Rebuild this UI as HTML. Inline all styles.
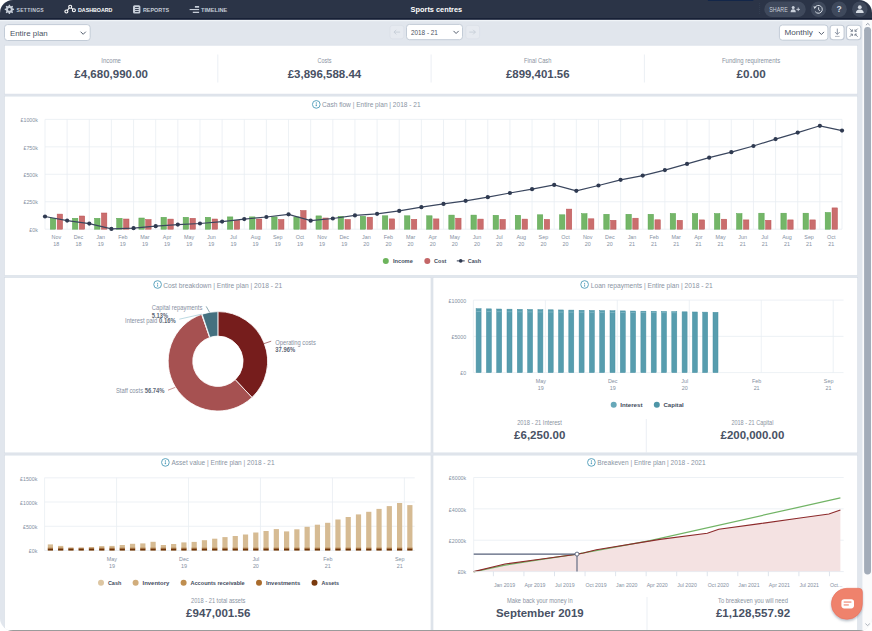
<!DOCTYPE html>
<html><head><meta charset="utf-8"><title>Sports centres - Dashboard</title>
<style>
html,body{margin:0;padding:0;background:#ffffff;width:872px;height:631px;overflow:hidden;}
.win{position:absolute;left:0;top:0;width:872px;height:631px;border-radius:13px;overflow:hidden;}
svg{display:block;font-family:"Liberation Sans", Arial, sans-serif;}
</style></head><body>
<div class="win">
<svg width="872" height="631" viewBox="0 0 872 631">
<rect x="0.00" y="0.00" width="872.00" height="631.00" fill="#e1e6ed"/>
<rect x="4.50" y="45.20" width="853.20" height="48.90" fill="#ffffff" stroke="#d5dce5" stroke-width="0.6"/>
<rect x="4.50" y="96.10" width="853.20" height="179.50" fill="#ffffff" stroke="#d5dce5" stroke-width="0.6"/>
<rect x="4.50" y="277.40" width="426.50" height="175.50" fill="#ffffff" stroke="#d5dce5" stroke-width="0.6"/>
<rect x="433.00" y="277.40" width="424.70" height="175.50" fill="#ffffff" stroke="#d5dce5" stroke-width="0.6"/>
<rect x="4.50" y="455.10" width="426.50" height="184.90" fill="#ffffff" stroke="#d5dce5" stroke-width="0.6"/>
<rect x="433.00" y="455.10" width="424.70" height="184.90" fill="#ffffff" stroke="#d5dce5" stroke-width="0.6"/>
<rect x="0.00" y="0.00" width="872.00" height="18.40" fill="#2b3447"/>
<rect x="0.00" y="18.00" width="872.00" height="1.90" fill="#172036"/>
<rect x="0.00" y="19.90" width="872.00" height="1.30" fill="#f0f4f8"/>
<polygon points="8.79,4.74 10.01,4.74 10.31,6.02 11.15,6.37 12.26,5.67 13.13,6.54 12.43,7.65 12.78,8.49 14.06,8.79 14.06,10.01 12.78,10.31 12.43,11.15 13.13,12.26 12.26,13.13 11.15,12.43 10.31,12.78 10.01,14.06 8.79,14.06 8.49,12.78 7.65,12.43 6.54,13.13 5.67,12.26 6.37,11.15 6.02,10.31 4.74,10.01 4.74,8.79 6.02,8.49 6.37,7.65 5.67,6.54 6.54,5.67 7.65,6.37 8.49,6.02" fill="#c6cdd8"/>
<circle cx="9.40" cy="9.40" r="1.35" fill="#2b3447"/>
<text x="16.60" y="12.00" font-size="5.9" font-weight="700" fill="#c4ccd7" textLength="27.40" lengthAdjust="spacingAndGlyphs" letter-spacing="0.3">SETTINGS</text>
<g stroke="#ffffff" stroke-width="1.1" fill="none"><line x1="66.4" y1="11.5" x2="70.2" y2="6.8"/><line x1="70.2" y1="6.8" x2="73.9" y2="10.2"/><circle cx="66.4" cy="11.5" r="1.5" fill="#2b3447"/><circle cx="70.2" cy="6.8" r="1.5" fill="#2b3447"/><circle cx="73.9" cy="10.2" r="1.5" fill="#2b3447"/></g>
<text x="78.00" y="12.00" font-size="5.9" font-weight="700" fill="#ffffff" textLength="34.40" lengthAdjust="spacingAndGlyphs">DASHBOARD</text>
<rect x="133.0" y="5.2" width="7.4" height="8.4" rx="1.5" fill="#c6cdd8"/><g stroke="#2b3447" stroke-width="0.9"><line x1="135.1" y1="7.5" x2="138.7" y2="7.5"/><line x1="135.1" y1="9.5" x2="138.7" y2="9.5"/><line x1="135.1" y1="11.5" x2="138.7" y2="11.5"/></g>
<text x="142.90" y="12.00" font-size="5.9" font-weight="700" fill="#c4ccd7" textLength="26.20" lengthAdjust="spacingAndGlyphs">REPORTS</text>
<g fill="#c6cdd8"><rect x="194.9" y="6.0" width="4.2" height="1.7"/><rect x="189.6" y="9.0" width="9.5" height="1.1"/><rect x="192.8" y="11.7" width="6.3" height="1.3"/></g>
<text x="201.00" y="12.00" font-size="5.9" font-weight="700" fill="#c4ccd7" textLength="26.30" lengthAdjust="spacingAndGlyphs">TIMELINE</text>
<text x="436.40" y="12.10" font-size="7.7" font-weight="700" fill="#ffffff" text-anchor="middle" textLength="51.60" lengthAdjust="spacingAndGlyphs">Sports centres</text>
<rect x="707.90" y="0.00" width="45.40" height="0.90" fill="#11254a"/>
<line x1="759.60" y1="3.00" x2="759.60" y2="15.00" stroke="#3a4457" stroke-width="0.6" stroke-dasharray="1 1"/>
<rect x="764.30" y="1.60" width="41.40" height="15.50" fill="#3f495c" rx="7.7"/>
<text x="769.30" y="11.60" font-size="6.4" fill="#c9d0da" textLength="18.40" lengthAdjust="spacingAndGlyphs">SHARE</text>
<g fill="#c9d0da"><circle cx="793.2" cy="7.6" r="1.5"/><path d="M790.6 12.2 q0-2.9 2.6-2.9 q2.6 0 2.6 2.9z"/><rect x="796.4" y="8.9" width="3.6" height="0.9"/><rect x="797.75" y="7.5" width="0.9" height="3.6"/></g>
<circle cx="818.50" cy="9.30" r="7.7" fill="#3f495c"/>
<circle cx="839.10" cy="9.30" r="7.7" fill="#3f495c"/>
<circle cx="859.80" cy="9.30" r="7.7" fill="#3f495c"/>
<g fill="none" stroke="#d5dbe3" stroke-width="1.0"><path d="M815.0 7.4 A3.9 3.9 0 1 1 815.2 11.6"/><path d="M818.6 7.3 V9.7 L820.2 10.8"/></g><path d="M813.4 6.3 L816.4 6.9 L814.4 9.0 Z" fill="#d5dbe3"/>
<text x="839.10" y="12.40" font-size="8.5" font-weight="700" fill="#d5dbe3" text-anchor="middle">?</text>
<g fill="#d5dbe3"><circle cx="859.8" cy="7.2" r="1.9"/><path d="M855.9 12.9 q0-3.5 3.9-3.5 q3.9 0 3.9 3.5z"/></g>
<rect x="4.50" y="24.60" width="85.70" height="15.90" fill="#ffffff" rx="3" stroke="#c3ccd7" stroke-width="1"/>
<text x="9.90" y="35.70" font-size="7.2" fill="#4a5262" textLength="37.80" lengthAdjust="spacingAndGlyphs">Entire plan</text>
<path d="M80.60 31.70 L83.20 34.30 L85.80 31.70" fill="none" stroke="#566070" stroke-width="1.0"/>
<rect x="390.00" y="25.40" width="13.80" height="13.40" fill="#e6eaf0" rx="2.5" stroke="#d8dee6" stroke-width="0.6"/>
<g fill="none" stroke="#c3cad4" stroke-width="0.8"><path d="M394 32.1 H400.1 M396.3 29.8 L394 32.1 L396.3 34.4"/></g>
<rect x="406.50" y="24.40" width="56.00" height="15.30" fill="#ffffff" rx="3" stroke="#c3ccd7" stroke-width="1"/>
<text x="411.00" y="34.90" font-size="7.2" fill="#4a5262" textLength="26.90" lengthAdjust="spacingAndGlyphs">2018 - 21</text>
<path d="M453.50 30.90 L456.10 33.50 L458.70 30.90" fill="none" stroke="#566070" stroke-width="1.0"/>
<rect x="465.80" y="25.40" width="13.80" height="13.40" fill="#e6eaf0" rx="2.5" stroke="#d8dee6" stroke-width="0.6"/>
<g fill="none" stroke="#c3cad4" stroke-width="0.8"><path d="M469.3 32.1 H475.4 M473.1 29.8 L475.4 32.1 L473.1 34.4"/></g>
<rect x="779.40" y="25.00" width="48.50" height="15.20" fill="#ffffff" rx="3" stroke="#c3ccd7" stroke-width="1"/>
<text x="784.40" y="35.40" font-size="7.2" fill="#4a5262" textLength="28.50" lengthAdjust="spacingAndGlyphs">Monthly</text>
<path d="M818.80 31.90 L821.40 34.50 L824.00 31.90" fill="none" stroke="#566070" stroke-width="1.0"/>
<rect x="830.10" y="25.20" width="14.00" height="14.60" fill="#ffffff" rx="3" stroke="#c3cbd6" stroke-width="1.1"/>
<g fill="none" stroke="#7c8696" stroke-width="0.9"><path d="M837.3 28.6 V34.4 M835 32.1 L837.3 34.4 L839.6 32.1"/><path d="M835 36.4 H839.6" stroke-width="0.6"/></g>
<rect x="846.50" y="25.20" width="14.40" height="14.60" fill="#ffffff" rx="3" stroke="#c3cbd6" stroke-width="1.1"/>
<g fill="none" stroke="#6f7988" stroke-width="0.85"><path d="M849.7 28.6 L852.4 31.3 M852.4 29.4 V31.3 H850.5"/><path d="M857.7 28.6 L855 31.3 M855 29.4 V31.3 H856.9"/><path d="M849.7 36.8 L852.4 34.1 M852.4 36 V34.1 H850.5"/><path d="M857.7 36.8 L855 34.1 M855 36 V34.1 H856.9"/></g>
<text x="111.15" y="62.90" font-size="6.5" fill="#8a93a1" text-anchor="middle" textLength="19.60" lengthAdjust="spacingAndGlyphs">Income</text>
<text x="111.15" y="77.50" font-size="11.4" font-weight="700" fill="#485164" text-anchor="middle" textLength="73.60" lengthAdjust="spacingAndGlyphs">£4,680,990.00</text>
<text x="324.45" y="62.90" font-size="6.5" fill="#8a93a1" text-anchor="middle" textLength="14.00" lengthAdjust="spacingAndGlyphs">Costs</text>
<text x="324.45" y="77.50" font-size="11.4" font-weight="700" fill="#485164" text-anchor="middle" textLength="73.60" lengthAdjust="spacingAndGlyphs">£3,896,588.44</text>
<line x1="217.80" y1="54.50" x2="217.80" y2="82.50" stroke="#e6ebf1" stroke-width="0.8"/>
<text x="537.75" y="62.90" font-size="6.5" fill="#8a93a1" text-anchor="middle" textLength="27.30" lengthAdjust="spacingAndGlyphs">Final Cash</text>
<text x="537.75" y="77.50" font-size="11.4" font-weight="700" fill="#485164" text-anchor="middle" textLength="63.70" lengthAdjust="spacingAndGlyphs">£899,401.56</text>
<line x1="431.10" y1="54.50" x2="431.10" y2="82.50" stroke="#e6ebf1" stroke-width="0.8"/>
<text x="751.05" y="62.90" font-size="6.5" fill="#8a93a1" text-anchor="middle" textLength="58.20" lengthAdjust="spacingAndGlyphs">Funding requirements</text>
<text x="751.05" y="77.50" font-size="11.4" font-weight="700" fill="#485164" text-anchor="middle" textLength="29.20" lengthAdjust="spacingAndGlyphs">£0.00</text>
<line x1="644.40" y1="54.50" x2="644.40" y2="82.50" stroke="#e6ebf1" stroke-width="0.8"/>
<circle cx="316.30" cy="104.40" r="3.85" fill="none" stroke="#5ea5bf" stroke-width="1.0"/>
<line x1="316.30" y1="102.00" x2="316.30" y2="104.80" stroke="#5ea5bf" stroke-width="0.75"/>
<circle cx="316.30" cy="105.50" r="0.8" fill="#5ea5bf"/>
<text x="322.00" y="107.00" font-size="7.8" fill="#8a94a3" textLength="98.60" lengthAdjust="spacingAndGlyphs">Cash flow | Entire plan | 2018 - 21</text>
<line x1="45.00" y1="229.20" x2="842.00" y2="229.20" stroke="#e8edf3" stroke-width="0.8"/>
<line x1="45.00" y1="201.75" x2="842.00" y2="201.75" stroke="#e8edf3" stroke-width="0.8"/>
<line x1="45.00" y1="174.30" x2="842.00" y2="174.30" stroke="#e8edf3" stroke-width="0.8"/>
<line x1="45.00" y1="146.85" x2="842.00" y2="146.85" stroke="#e8edf3" stroke-width="0.8"/>
<line x1="45.00" y1="119.40" x2="842.00" y2="119.40" stroke="#e8edf3" stroke-width="0.8"/>
<line x1="45.00" y1="119.40" x2="45.00" y2="229.20" stroke="#e8edf3" stroke-width="0.8"/>
<line x1="67.14" y1="119.40" x2="67.14" y2="229.20" stroke="#e8edf3" stroke-width="0.8"/>
<line x1="89.28" y1="119.40" x2="89.28" y2="229.20" stroke="#e8edf3" stroke-width="0.8"/>
<line x1="111.42" y1="119.40" x2="111.42" y2="229.20" stroke="#e8edf3" stroke-width="0.8"/>
<line x1="133.56" y1="119.40" x2="133.56" y2="229.20" stroke="#e8edf3" stroke-width="0.8"/>
<line x1="155.69" y1="119.40" x2="155.69" y2="229.20" stroke="#e8edf3" stroke-width="0.8"/>
<line x1="177.83" y1="119.40" x2="177.83" y2="229.20" stroke="#e8edf3" stroke-width="0.8"/>
<line x1="199.97" y1="119.40" x2="199.97" y2="229.20" stroke="#e8edf3" stroke-width="0.8"/>
<line x1="222.11" y1="119.40" x2="222.11" y2="229.20" stroke="#e8edf3" stroke-width="0.8"/>
<line x1="244.25" y1="119.40" x2="244.25" y2="229.20" stroke="#e8edf3" stroke-width="0.8"/>
<line x1="266.39" y1="119.40" x2="266.39" y2="229.20" stroke="#e8edf3" stroke-width="0.8"/>
<line x1="288.53" y1="119.40" x2="288.53" y2="229.20" stroke="#e8edf3" stroke-width="0.8"/>
<line x1="310.67" y1="119.40" x2="310.67" y2="229.20" stroke="#e8edf3" stroke-width="0.8"/>
<line x1="332.81" y1="119.40" x2="332.81" y2="229.20" stroke="#e8edf3" stroke-width="0.8"/>
<line x1="354.94" y1="119.40" x2="354.94" y2="229.20" stroke="#e8edf3" stroke-width="0.8"/>
<line x1="377.08" y1="119.40" x2="377.08" y2="229.20" stroke="#e8edf3" stroke-width="0.8"/>
<line x1="399.22" y1="119.40" x2="399.22" y2="229.20" stroke="#e8edf3" stroke-width="0.8"/>
<line x1="421.36" y1="119.40" x2="421.36" y2="229.20" stroke="#e8edf3" stroke-width="0.8"/>
<line x1="443.50" y1="119.40" x2="443.50" y2="229.20" stroke="#e8edf3" stroke-width="0.8"/>
<line x1="465.64" y1="119.40" x2="465.64" y2="229.20" stroke="#e8edf3" stroke-width="0.8"/>
<line x1="487.78" y1="119.40" x2="487.78" y2="229.20" stroke="#e8edf3" stroke-width="0.8"/>
<line x1="509.92" y1="119.40" x2="509.92" y2="229.20" stroke="#e8edf3" stroke-width="0.8"/>
<line x1="532.06" y1="119.40" x2="532.06" y2="229.20" stroke="#e8edf3" stroke-width="0.8"/>
<line x1="554.19" y1="119.40" x2="554.19" y2="229.20" stroke="#e8edf3" stroke-width="0.8"/>
<line x1="576.33" y1="119.40" x2="576.33" y2="229.20" stroke="#e8edf3" stroke-width="0.8"/>
<line x1="598.47" y1="119.40" x2="598.47" y2="229.20" stroke="#e8edf3" stroke-width="0.8"/>
<line x1="620.61" y1="119.40" x2="620.61" y2="229.20" stroke="#e8edf3" stroke-width="0.8"/>
<line x1="642.75" y1="119.40" x2="642.75" y2="229.20" stroke="#e8edf3" stroke-width="0.8"/>
<line x1="664.89" y1="119.40" x2="664.89" y2="229.20" stroke="#e8edf3" stroke-width="0.8"/>
<line x1="687.03" y1="119.40" x2="687.03" y2="229.20" stroke="#e8edf3" stroke-width="0.8"/>
<line x1="709.17" y1="119.40" x2="709.17" y2="229.20" stroke="#e8edf3" stroke-width="0.8"/>
<line x1="731.31" y1="119.40" x2="731.31" y2="229.20" stroke="#e8edf3" stroke-width="0.8"/>
<line x1="753.44" y1="119.40" x2="753.44" y2="229.20" stroke="#e8edf3" stroke-width="0.8"/>
<line x1="775.58" y1="119.40" x2="775.58" y2="229.20" stroke="#e8edf3" stroke-width="0.8"/>
<line x1="797.72" y1="119.40" x2="797.72" y2="229.20" stroke="#e8edf3" stroke-width="0.8"/>
<line x1="819.86" y1="119.40" x2="819.86" y2="229.20" stroke="#e8edf3" stroke-width="0.8"/>
<line x1="842.00" y1="119.40" x2="842.00" y2="229.20" stroke="#e8edf3" stroke-width="0.8"/>
<text x="37.90" y="231.90" font-size="5.3" fill="#8590a2" text-anchor="end">£0k</text>
<text x="37.90" y="204.45" font-size="5.3" fill="#8590a2" text-anchor="end">£250k</text>
<text x="37.90" y="177.00" font-size="5.3" fill="#8590a2" text-anchor="end">£500k</text>
<text x="37.90" y="149.55" font-size="5.3" fill="#8590a2" text-anchor="end">£750k</text>
<text x="37.90" y="122.10" font-size="5.3" fill="#8590a2" text-anchor="end">£1000k</text>
<rect x="50.32" y="218.30" width="5.40" height="10.90" fill="#74b668" stroke="#55a44c" stroke-width="0.5"/>
<rect x="57.17" y="214.10" width="5.40" height="15.10" fill="#ca6e6e" stroke="#bb5253" stroke-width="0.5"/>
<text x="56.37" y="239.20" font-size="5.4" fill="#8590a2" text-anchor="middle">Nov</text>
<text x="56.37" y="245.90" font-size="5.4" fill="#8590a2" text-anchor="middle">18</text>
<rect x="72.46" y="218.30" width="5.40" height="10.90" fill="#74b668" stroke="#55a44c" stroke-width="0.5"/>
<rect x="79.31" y="216.00" width="5.40" height="13.20" fill="#ca6e6e" stroke="#bb5253" stroke-width="0.5"/>
<text x="78.51" y="239.20" font-size="5.4" fill="#8590a2" text-anchor="middle">Dec</text>
<text x="78.51" y="245.90" font-size="5.4" fill="#8590a2" text-anchor="middle">18</text>
<rect x="94.60" y="218.30" width="5.40" height="10.90" fill="#74b668" stroke="#55a44c" stroke-width="0.5"/>
<rect x="101.45" y="213.00" width="5.40" height="16.20" fill="#ca6e6e" stroke="#bb5253" stroke-width="0.5"/>
<text x="100.65" y="239.20" font-size="5.4" fill="#8590a2" text-anchor="middle">Jan</text>
<text x="100.65" y="245.90" font-size="5.4" fill="#8590a2" text-anchor="middle">19</text>
<rect x="116.74" y="218.30" width="5.40" height="10.90" fill="#74b668" stroke="#55a44c" stroke-width="0.5"/>
<rect x="123.59" y="219.00" width="5.40" height="10.20" fill="#ca6e6e" stroke="#bb5253" stroke-width="0.5"/>
<text x="122.79" y="239.20" font-size="5.4" fill="#8590a2" text-anchor="middle">Feb</text>
<text x="122.79" y="245.90" font-size="5.4" fill="#8590a2" text-anchor="middle">19</text>
<rect x="138.88" y="218.00" width="5.40" height="11.20" fill="#74b668" stroke="#55a44c" stroke-width="0.5"/>
<rect x="145.72" y="219.50" width="5.40" height="9.70" fill="#ca6e6e" stroke="#bb5253" stroke-width="0.5"/>
<text x="144.93" y="239.20" font-size="5.4" fill="#8590a2" text-anchor="middle">Mar</text>
<text x="144.93" y="245.90" font-size="5.4" fill="#8590a2" text-anchor="middle">19</text>
<rect x="161.01" y="217.30" width="5.40" height="11.90" fill="#74b668" stroke="#55a44c" stroke-width="0.5"/>
<rect x="167.86" y="219.10" width="5.40" height="10.10" fill="#ca6e6e" stroke="#bb5253" stroke-width="0.5"/>
<text x="167.06" y="239.20" font-size="5.4" fill="#8590a2" text-anchor="middle">Apr</text>
<text x="167.06" y="245.90" font-size="5.4" fill="#8590a2" text-anchor="middle">19</text>
<rect x="183.15" y="217.30" width="5.40" height="11.90" fill="#74b668" stroke="#55a44c" stroke-width="0.5"/>
<rect x="190.00" y="218.30" width="5.40" height="10.90" fill="#ca6e6e" stroke="#bb5253" stroke-width="0.5"/>
<text x="189.20" y="239.20" font-size="5.4" fill="#8590a2" text-anchor="middle">May</text>
<text x="189.20" y="245.90" font-size="5.4" fill="#8590a2" text-anchor="middle">19</text>
<rect x="205.29" y="217.30" width="5.40" height="11.90" fill="#74b668" stroke="#55a44c" stroke-width="0.5"/>
<rect x="212.14" y="219.00" width="5.40" height="10.20" fill="#ca6e6e" stroke="#bb5253" stroke-width="0.5"/>
<text x="211.34" y="239.20" font-size="5.4" fill="#8590a2" text-anchor="middle">Jun</text>
<text x="211.34" y="245.90" font-size="5.4" fill="#8590a2" text-anchor="middle">19</text>
<rect x="227.43" y="216.90" width="5.40" height="12.30" fill="#74b668" stroke="#55a44c" stroke-width="0.5"/>
<rect x="234.28" y="220.20" width="5.40" height="9.00" fill="#ca6e6e" stroke="#bb5253" stroke-width="0.5"/>
<text x="233.48" y="239.20" font-size="5.4" fill="#8590a2" text-anchor="middle">Jul</text>
<text x="233.48" y="245.90" font-size="5.4" fill="#8590a2" text-anchor="middle">19</text>
<rect x="249.57" y="216.90" width="5.40" height="12.30" fill="#74b668" stroke="#55a44c" stroke-width="0.5"/>
<rect x="256.42" y="219.00" width="5.40" height="10.20" fill="#ca6e6e" stroke="#bb5253" stroke-width="0.5"/>
<text x="255.62" y="239.20" font-size="5.4" fill="#8590a2" text-anchor="middle">Aug</text>
<text x="255.62" y="245.90" font-size="5.4" fill="#8590a2" text-anchor="middle">19</text>
<rect x="271.71" y="216.90" width="5.40" height="12.30" fill="#74b668" stroke="#55a44c" stroke-width="0.5"/>
<rect x="278.56" y="219.50" width="5.40" height="9.70" fill="#ca6e6e" stroke="#bb5253" stroke-width="0.5"/>
<text x="277.76" y="239.20" font-size="5.4" fill="#8590a2" text-anchor="middle">Sep</text>
<text x="277.76" y="245.90" font-size="5.4" fill="#8590a2" text-anchor="middle">19</text>
<rect x="293.85" y="216.90" width="5.40" height="12.30" fill="#74b668" stroke="#55a44c" stroke-width="0.5"/>
<rect x="300.70" y="210.50" width="5.40" height="18.70" fill="#ca6e6e" stroke="#bb5253" stroke-width="0.5"/>
<text x="299.90" y="239.20" font-size="5.4" fill="#8590a2" text-anchor="middle">Oct</text>
<text x="299.90" y="245.90" font-size="5.4" fill="#8590a2" text-anchor="middle">19</text>
<rect x="315.99" y="215.90" width="5.40" height="13.30" fill="#74b668" stroke="#55a44c" stroke-width="0.5"/>
<rect x="322.84" y="218.00" width="5.40" height="11.20" fill="#ca6e6e" stroke="#bb5253" stroke-width="0.5"/>
<text x="322.04" y="239.20" font-size="5.4" fill="#8590a2" text-anchor="middle">Nov</text>
<text x="322.04" y="245.90" font-size="5.4" fill="#8590a2" text-anchor="middle">19</text>
<rect x="338.12" y="216.30" width="5.40" height="12.90" fill="#74b668" stroke="#55a44c" stroke-width="0.5"/>
<rect x="344.98" y="219.50" width="5.40" height="9.70" fill="#ca6e6e" stroke="#bb5253" stroke-width="0.5"/>
<text x="344.18" y="239.20" font-size="5.4" fill="#8590a2" text-anchor="middle">Dec</text>
<text x="344.18" y="245.90" font-size="5.4" fill="#8590a2" text-anchor="middle">19</text>
<rect x="360.26" y="216.30" width="5.40" height="12.90" fill="#74b668" stroke="#55a44c" stroke-width="0.5"/>
<rect x="367.11" y="217.20" width="5.40" height="12.00" fill="#ca6e6e" stroke="#bb5253" stroke-width="0.5"/>
<text x="366.31" y="239.20" font-size="5.4" fill="#8590a2" text-anchor="middle">Jan</text>
<text x="366.31" y="245.90" font-size="5.4" fill="#8590a2" text-anchor="middle">20</text>
<rect x="382.40" y="215.80" width="5.40" height="13.40" fill="#74b668" stroke="#55a44c" stroke-width="0.5"/>
<rect x="389.25" y="218.90" width="5.40" height="10.30" fill="#ca6e6e" stroke="#bb5253" stroke-width="0.5"/>
<text x="388.45" y="239.20" font-size="5.4" fill="#8590a2" text-anchor="middle">Feb</text>
<text x="388.45" y="245.90" font-size="5.4" fill="#8590a2" text-anchor="middle">20</text>
<rect x="404.54" y="215.80" width="5.40" height="13.40" fill="#74b668" stroke="#55a44c" stroke-width="0.5"/>
<rect x="411.39" y="219.30" width="5.40" height="9.90" fill="#ca6e6e" stroke="#bb5253" stroke-width="0.5"/>
<text x="410.59" y="239.20" font-size="5.4" fill="#8590a2" text-anchor="middle">Mar</text>
<text x="410.59" y="245.90" font-size="5.4" fill="#8590a2" text-anchor="middle">20</text>
<rect x="426.68" y="215.80" width="5.40" height="13.40" fill="#74b668" stroke="#55a44c" stroke-width="0.5"/>
<rect x="433.53" y="218.90" width="5.40" height="10.30" fill="#ca6e6e" stroke="#bb5253" stroke-width="0.5"/>
<text x="432.73" y="239.20" font-size="5.4" fill="#8590a2" text-anchor="middle">Apr</text>
<text x="432.73" y="245.90" font-size="5.4" fill="#8590a2" text-anchor="middle">20</text>
<rect x="448.82" y="215.10" width="5.40" height="14.10" fill="#74b668" stroke="#55a44c" stroke-width="0.5"/>
<rect x="455.67" y="218.20" width="5.40" height="11.00" fill="#ca6e6e" stroke="#bb5253" stroke-width="0.5"/>
<text x="454.87" y="239.20" font-size="5.4" fill="#8590a2" text-anchor="middle">May</text>
<text x="454.87" y="245.90" font-size="5.4" fill="#8590a2" text-anchor="middle">20</text>
<rect x="470.96" y="215.10" width="5.40" height="14.10" fill="#74b668" stroke="#55a44c" stroke-width="0.5"/>
<rect x="477.81" y="219.10" width="5.40" height="10.10" fill="#ca6e6e" stroke="#bb5253" stroke-width="0.5"/>
<text x="477.01" y="239.20" font-size="5.4" fill="#8590a2" text-anchor="middle">Jun</text>
<text x="477.01" y="245.90" font-size="5.4" fill="#8590a2" text-anchor="middle">20</text>
<rect x="493.10" y="215.30" width="5.40" height="13.90" fill="#74b668" stroke="#55a44c" stroke-width="0.5"/>
<rect x="499.95" y="219.40" width="5.40" height="9.80" fill="#ca6e6e" stroke="#bb5253" stroke-width="0.5"/>
<text x="499.15" y="239.20" font-size="5.4" fill="#8590a2" text-anchor="middle">Jul</text>
<text x="499.15" y="245.90" font-size="5.4" fill="#8590a2" text-anchor="middle">20</text>
<rect x="515.24" y="215.30" width="5.40" height="13.90" fill="#74b668" stroke="#55a44c" stroke-width="0.5"/>
<rect x="522.09" y="219.10" width="5.40" height="10.10" fill="#ca6e6e" stroke="#bb5253" stroke-width="0.5"/>
<text x="521.29" y="239.20" font-size="5.4" fill="#8590a2" text-anchor="middle">Aug</text>
<text x="521.29" y="245.90" font-size="5.4" fill="#8590a2" text-anchor="middle">20</text>
<rect x="537.38" y="214.80" width="5.40" height="14.40" fill="#74b668" stroke="#55a44c" stroke-width="0.5"/>
<rect x="544.23" y="219.40" width="5.40" height="9.80" fill="#ca6e6e" stroke="#bb5253" stroke-width="0.5"/>
<text x="543.42" y="239.20" font-size="5.4" fill="#8590a2" text-anchor="middle">Sep</text>
<text x="543.42" y="245.90" font-size="5.4" fill="#8590a2" text-anchor="middle">20</text>
<rect x="559.51" y="214.80" width="5.40" height="14.40" fill="#74b668" stroke="#55a44c" stroke-width="0.5"/>
<rect x="566.36" y="209.10" width="5.40" height="20.10" fill="#ca6e6e" stroke="#bb5253" stroke-width="0.5"/>
<text x="565.56" y="239.20" font-size="5.4" fill="#8590a2" text-anchor="middle">Oct</text>
<text x="565.56" y="245.90" font-size="5.4" fill="#8590a2" text-anchor="middle">20</text>
<rect x="581.65" y="213.70" width="5.40" height="15.50" fill="#74b668" stroke="#55a44c" stroke-width="0.5"/>
<rect x="588.50" y="218.80" width="5.40" height="10.40" fill="#ca6e6e" stroke="#bb5253" stroke-width="0.5"/>
<text x="587.70" y="239.20" font-size="5.4" fill="#8590a2" text-anchor="middle">Nov</text>
<text x="587.70" y="245.90" font-size="5.4" fill="#8590a2" text-anchor="middle">20</text>
<rect x="603.79" y="214.30" width="5.40" height="14.90" fill="#74b668" stroke="#55a44c" stroke-width="0.5"/>
<rect x="610.64" y="220.30" width="5.40" height="8.90" fill="#ca6e6e" stroke="#bb5253" stroke-width="0.5"/>
<text x="609.84" y="239.20" font-size="5.4" fill="#8590a2" text-anchor="middle">Dec</text>
<text x="609.84" y="245.90" font-size="5.4" fill="#8590a2" text-anchor="middle">20</text>
<rect x="625.93" y="214.30" width="5.40" height="14.90" fill="#74b668" stroke="#55a44c" stroke-width="0.5"/>
<rect x="632.78" y="218.20" width="5.40" height="11.00" fill="#ca6e6e" stroke="#bb5253" stroke-width="0.5"/>
<text x="631.98" y="239.20" font-size="5.4" fill="#8590a2" text-anchor="middle">Jan</text>
<text x="631.98" y="245.90" font-size="5.4" fill="#8590a2" text-anchor="middle">21</text>
<rect x="648.07" y="214.30" width="5.40" height="14.90" fill="#74b668" stroke="#55a44c" stroke-width="0.5"/>
<rect x="654.92" y="219.80" width="5.40" height="9.40" fill="#ca6e6e" stroke="#bb5253" stroke-width="0.5"/>
<text x="654.12" y="239.20" font-size="5.4" fill="#8590a2" text-anchor="middle">Feb</text>
<text x="654.12" y="245.90" font-size="5.4" fill="#8590a2" text-anchor="middle">21</text>
<rect x="670.21" y="213.50" width="5.40" height="15.70" fill="#74b668" stroke="#55a44c" stroke-width="0.5"/>
<rect x="677.06" y="220.30" width="5.40" height="8.90" fill="#ca6e6e" stroke="#bb5253" stroke-width="0.5"/>
<text x="676.26" y="239.20" font-size="5.4" fill="#8590a2" text-anchor="middle">Mar</text>
<text x="676.26" y="245.90" font-size="5.4" fill="#8590a2" text-anchor="middle">21</text>
<rect x="692.35" y="213.60" width="5.40" height="15.60" fill="#74b668" stroke="#55a44c" stroke-width="0.5"/>
<rect x="699.20" y="219.90" width="5.40" height="9.30" fill="#ca6e6e" stroke="#bb5253" stroke-width="0.5"/>
<text x="698.40" y="239.20" font-size="5.4" fill="#8590a2" text-anchor="middle">Apr</text>
<text x="698.40" y="245.90" font-size="5.4" fill="#8590a2" text-anchor="middle">21</text>
<rect x="714.49" y="213.60" width="5.40" height="15.60" fill="#74b668" stroke="#55a44c" stroke-width="0.5"/>
<rect x="721.34" y="219.20" width="5.40" height="10.00" fill="#ca6e6e" stroke="#bb5253" stroke-width="0.5"/>
<text x="720.54" y="239.20" font-size="5.4" fill="#8590a2" text-anchor="middle">May</text>
<text x="720.54" y="245.90" font-size="5.4" fill="#8590a2" text-anchor="middle">21</text>
<rect x="736.62" y="213.60" width="5.40" height="15.60" fill="#74b668" stroke="#55a44c" stroke-width="0.5"/>
<rect x="743.48" y="219.90" width="5.40" height="9.30" fill="#ca6e6e" stroke="#bb5253" stroke-width="0.5"/>
<text x="742.67" y="239.20" font-size="5.4" fill="#8590a2" text-anchor="middle">Jun</text>
<text x="742.67" y="245.90" font-size="5.4" fill="#8590a2" text-anchor="middle">21</text>
<rect x="758.76" y="213.20" width="5.40" height="16.00" fill="#74b668" stroke="#55a44c" stroke-width="0.5"/>
<rect x="765.61" y="220.30" width="5.40" height="8.90" fill="#ca6e6e" stroke="#bb5253" stroke-width="0.5"/>
<text x="764.81" y="239.20" font-size="5.4" fill="#8590a2" text-anchor="middle">Jul</text>
<text x="764.81" y="245.90" font-size="5.4" fill="#8590a2" text-anchor="middle">21</text>
<rect x="780.90" y="213.20" width="5.40" height="16.00" fill="#74b668" stroke="#55a44c" stroke-width="0.5"/>
<rect x="787.75" y="219.90" width="5.40" height="9.30" fill="#ca6e6e" stroke="#bb5253" stroke-width="0.5"/>
<text x="786.95" y="239.20" font-size="5.4" fill="#8590a2" text-anchor="middle">Aug</text>
<text x="786.95" y="245.90" font-size="5.4" fill="#8590a2" text-anchor="middle">21</text>
<rect x="803.04" y="213.20" width="5.40" height="16.00" fill="#74b668" stroke="#55a44c" stroke-width="0.5"/>
<rect x="809.89" y="219.90" width="5.40" height="9.30" fill="#ca6e6e" stroke="#bb5253" stroke-width="0.5"/>
<text x="809.09" y="239.20" font-size="5.4" fill="#8590a2" text-anchor="middle">Sep</text>
<text x="809.09" y="245.90" font-size="5.4" fill="#8590a2" text-anchor="middle">21</text>
<rect x="825.18" y="212.50" width="5.40" height="16.70" fill="#74b668" stroke="#55a44c" stroke-width="0.5"/>
<rect x="832.03" y="207.90" width="5.40" height="21.30" fill="#ca6e6e" stroke="#bb5253" stroke-width="0.5"/>
<text x="831.23" y="239.20" font-size="5.4" fill="#8590a2" text-anchor="middle">Oct</text>
<text x="831.23" y="245.90" font-size="5.4" fill="#8590a2" text-anchor="middle">21</text>
<polyline points="45.00,216.50 67.14,220.60 89.28,223.60 111.42,228.90 133.56,228.20 155.69,226.20 177.83,224.60 199.97,223.50 222.11,221.60 244.25,219.10 266.39,217.00 288.53,214.30 310.67,220.70 332.81,218.50 354.94,215.40 377.08,213.80 399.22,210.90 421.36,207.20 443.50,203.90 465.64,200.80 487.78,197.20 509.92,193.00 532.06,189.20 554.19,184.90 576.33,190.80 598.47,185.50 620.61,179.80 642.75,175.60 664.89,170.10 687.03,163.90 709.17,157.70 731.31,152.20 753.44,146.00 775.58,139.10 797.72,132.60 819.86,125.80 842.00,130.60" fill="none" stroke="#3a465e" stroke-width="1.2"/>
<circle cx="45.00" cy="216.50" r="2.1" fill="#2f3a51"/>
<circle cx="67.14" cy="220.60" r="2.1" fill="#2f3a51"/>
<circle cx="89.28" cy="223.60" r="2.1" fill="#2f3a51"/>
<circle cx="111.42" cy="228.90" r="2.1" fill="#2f3a51"/>
<circle cx="133.56" cy="228.20" r="2.1" fill="#2f3a51"/>
<circle cx="155.69" cy="226.20" r="2.1" fill="#2f3a51"/>
<circle cx="177.83" cy="224.60" r="2.1" fill="#2f3a51"/>
<circle cx="199.97" cy="223.50" r="2.1" fill="#2f3a51"/>
<circle cx="222.11" cy="221.60" r="2.1" fill="#2f3a51"/>
<circle cx="244.25" cy="219.10" r="2.1" fill="#2f3a51"/>
<circle cx="266.39" cy="217.00" r="2.1" fill="#2f3a51"/>
<circle cx="288.53" cy="214.30" r="2.1" fill="#2f3a51"/>
<circle cx="310.67" cy="220.70" r="2.1" fill="#2f3a51"/>
<circle cx="332.81" cy="218.50" r="2.1" fill="#2f3a51"/>
<circle cx="354.94" cy="215.40" r="2.1" fill="#2f3a51"/>
<circle cx="377.08" cy="213.80" r="2.1" fill="#2f3a51"/>
<circle cx="399.22" cy="210.90" r="2.1" fill="#2f3a51"/>
<circle cx="421.36" cy="207.20" r="2.1" fill="#2f3a51"/>
<circle cx="443.50" cy="203.90" r="2.1" fill="#2f3a51"/>
<circle cx="465.64" cy="200.80" r="2.1" fill="#2f3a51"/>
<circle cx="487.78" cy="197.20" r="2.1" fill="#2f3a51"/>
<circle cx="509.92" cy="193.00" r="2.1" fill="#2f3a51"/>
<circle cx="532.06" cy="189.20" r="2.1" fill="#2f3a51"/>
<circle cx="554.19" cy="184.90" r="2.1" fill="#2f3a51"/>
<circle cx="576.33" cy="190.80" r="2.1" fill="#2f3a51"/>
<circle cx="598.47" cy="185.50" r="2.1" fill="#2f3a51"/>
<circle cx="620.61" cy="179.80" r="2.1" fill="#2f3a51"/>
<circle cx="642.75" cy="175.60" r="2.1" fill="#2f3a51"/>
<circle cx="664.89" cy="170.10" r="2.1" fill="#2f3a51"/>
<circle cx="687.03" cy="163.90" r="2.1" fill="#2f3a51"/>
<circle cx="709.17" cy="157.70" r="2.1" fill="#2f3a51"/>
<circle cx="731.31" cy="152.20" r="2.1" fill="#2f3a51"/>
<circle cx="753.44" cy="146.00" r="2.1" fill="#2f3a51"/>
<circle cx="775.58" cy="139.10" r="2.1" fill="#2f3a51"/>
<circle cx="797.72" cy="132.60" r="2.1" fill="#2f3a51"/>
<circle cx="819.86" cy="125.80" r="2.1" fill="#2f3a51"/>
<circle cx="842.00" cy="130.60" r="2.1" fill="#2f3a51"/>
<circle cx="385.80" cy="260.90" r="3.0" fill="#6db45c"/>
<text x="393.00" y="263.00" font-size="6.2" font-weight="700" fill="#434c5d" textLength="19.80" lengthAdjust="spacingAndGlyphs">Income</text>
<circle cx="427.30" cy="260.90" r="3.0" fill="#c46667"/>
<text x="434.00" y="263.00" font-size="6.2" font-weight="700" fill="#434c5d" textLength="12.30" lengthAdjust="spacingAndGlyphs">Cost</text>
<line x1="456.80" y1="260.90" x2="464.70" y2="260.90" stroke="#2f3a51" stroke-width="1.0"/>
<circle cx="460.70" cy="260.90" r="1.8" fill="#2f3a51"/>
<text x="467.80" y="263.00" font-size="6.2" font-weight="700" fill="#434c5d" textLength="13.30" lengthAdjust="spacingAndGlyphs">Cash</text>
<circle cx="157.60" cy="284.50" r="3.85" fill="none" stroke="#5ea5bf" stroke-width="1.0"/>
<circle cx="157.60" cy="283.30" r="0.6" fill="#5ea5bf"/>
<line x1="157.60" y1="284.50" x2="157.60" y2="286.70" stroke="#5ea5bf" stroke-width="0.95"/>
<text x="163.20" y="287.60" font-size="7.8" fill="#8a94a3" textLength="119.10" lengthAdjust="spacingAndGlyphs">Cost breakdown | Entire plan | 2018 - 21</text>
<path d="M217.90 311.60 A49.7 49.7 0 0 1 252.01 397.44 L235.20 379.63 A25.2 25.2 0 0 0 217.90 336.10 Z" fill="#761d1c" stroke="#ffffff" stroke-width="0.8" stroke-linejoin="round"/>
<path d="M252.01 397.44 A49.7 49.7 0 1 1 201.65 314.33 L209.66 337.48 A25.2 25.2 0 1 0 235.20 379.63 Z" fill="#a65151" stroke="#ffffff" stroke-width="0.8" stroke-linejoin="round"/>
<path d="M201.65 314.33 A49.7 49.7 0 0 1 202.13 314.17 L209.90 337.40 A25.2 25.2 0 0 0 209.66 337.48 Z" fill="#5e8aa0" stroke="#ffffff" stroke-width="0.8" stroke-linejoin="round"/>
<path d="M202.13 314.17 A49.7 49.7 0 0 1 217.87 311.60 L217.88 336.10 A25.2 25.2 0 0 0 209.90 337.40 Z" fill="#44707f" stroke="#ffffff" stroke-width="0.8" stroke-linejoin="round"/>
<line x1="264.00" y1="343.60" x2="271.20" y2="341.20" stroke="#761d1c" stroke-width="0.6"/>
<text x="275.30" y="344.60" font-size="6.4" fill="#87909f" textLength="40.50" lengthAdjust="spacingAndGlyphs">Operating costs</text>
<text x="275.30" y="352.40" font-size="6.4" font-weight="700" fill="#5c6675" textLength="19.80" lengthAdjust="spacingAndGlyphs">37.96%</text>
<line x1="168.00" y1="390.20" x2="175.20" y2="387.40" stroke="#a65151" stroke-width="0.6"/>
<text x="164.50" y="393.20" font-size="6.4" fill="#87909f" text-anchor="end" textLength="48.60" lengthAdjust="spacingAndGlyphs">Staff costs <tspan font-weight="700" fill="#606a79">56.74%</tspan></text>
<line x1="206.20" y1="306.40" x2="209.60" y2="312.30" stroke="#44707f" stroke-width="0.6"/>
<text x="151.80" y="309.60" font-size="6.4" fill="#87909f" textLength="50.60" lengthAdjust="spacingAndGlyphs">Capital repayments</text>
<text x="151.80" y="317.90" font-size="6.4" font-weight="700" fill="#5c6675" textLength="16.30" lengthAdjust="spacingAndGlyphs">5.13%</text>
<line x1="179.30" y1="319.20" x2="201.90" y2="314.10" stroke="#8ec0cf" stroke-width="0.6"/>
<text x="125.00" y="322.70" font-size="6.4" fill="#87909f" textLength="50.70" lengthAdjust="spacingAndGlyphs">Interest paid <tspan font-weight="700" fill="#606a79">0.16%</tspan></text>
<circle cx="584.60" cy="284.50" r="3.85" fill="none" stroke="#5ea5bf" stroke-width="1.0"/>
<circle cx="584.60" cy="283.30" r="0.6" fill="#5ea5bf"/>
<line x1="584.60" y1="284.50" x2="584.60" y2="286.70" stroke="#5ea5bf" stroke-width="0.95"/>
<text x="590.80" y="287.60" font-size="7.8" fill="#8a94a3" textLength="121.80" lengthAdjust="spacingAndGlyphs">Loan repayments | Entire plan | 2018 - 21</text>
<line x1="473.40" y1="300.10" x2="843.50" y2="300.10" stroke="#e8edf3" stroke-width="0.8"/>
<line x1="473.40" y1="336.35" x2="843.50" y2="336.35" stroke="#e8edf3" stroke-width="0.8"/>
<line x1="473.40" y1="372.60" x2="843.50" y2="372.60" stroke="#e8edf3" stroke-width="0.8"/>
<line x1="473.40" y1="300.10" x2="473.40" y2="372.60" stroke="#e8edf3" stroke-width="0.8"/>
<line x1="545.36" y1="300.10" x2="545.36" y2="372.60" stroke="#e8edf3" stroke-width="0.8"/>
<line x1="617.32" y1="300.10" x2="617.32" y2="372.60" stroke="#e8edf3" stroke-width="0.8"/>
<line x1="689.28" y1="300.10" x2="689.28" y2="372.60" stroke="#e8edf3" stroke-width="0.8"/>
<line x1="761.24" y1="300.10" x2="761.24" y2="372.60" stroke="#e8edf3" stroke-width="0.8"/>
<line x1="833.20" y1="300.10" x2="833.20" y2="372.60" stroke="#e8edf3" stroke-width="0.8"/>
<text x="466.20" y="302.80" font-size="5.3" fill="#8590a2" text-anchor="end">£10000</text>
<text x="466.20" y="339.05" font-size="5.3" fill="#8590a2" text-anchor="end">£5000</text>
<text x="466.20" y="375.30" font-size="5.3" fill="#8590a2" text-anchor="end">£0</text>
<text x="540.76" y="382.60" font-size="5.4" fill="#8590a2" text-anchor="middle">May</text>
<text x="540.76" y="390.10" font-size="5.4" fill="#8590a2" text-anchor="middle">19</text>
<text x="612.72" y="382.60" font-size="5.4" fill="#8590a2" text-anchor="middle">Dec</text>
<text x="612.72" y="390.10" font-size="5.4" fill="#8590a2" text-anchor="middle">19</text>
<text x="684.68" y="382.60" font-size="5.4" fill="#8590a2" text-anchor="middle">Jul</text>
<text x="684.68" y="390.10" font-size="5.4" fill="#8590a2" text-anchor="middle">20</text>
<text x="756.64" y="382.60" font-size="5.4" fill="#8590a2" text-anchor="middle">Feb</text>
<text x="756.64" y="390.10" font-size="5.4" fill="#8590a2" text-anchor="middle">21</text>
<text x="828.60" y="382.60" font-size="5.4" fill="#8590a2" text-anchor="middle">Sep</text>
<text x="828.60" y="390.10" font-size="5.4" fill="#8590a2" text-anchor="middle">21</text>
<rect x="476.10" y="308.70" width="5.00" height="63.90" fill="#579dae" stroke="#4a91a3" stroke-width="0.5"/>
<rect x="476.35" y="311.20" width="4.50" height="0.80" fill="#82b8c6"/>
<rect x="486.40" y="308.86" width="5.00" height="63.74" fill="#579dae" stroke="#4a91a3" stroke-width="0.5"/>
<rect x="486.65" y="311.26" width="4.50" height="0.80" fill="#82b8c6"/>
<rect x="496.70" y="309.01" width="5.00" height="63.59" fill="#579dae" stroke="#4a91a3" stroke-width="0.5"/>
<rect x="496.95" y="311.32" width="4.50" height="0.80" fill="#82b8c6"/>
<rect x="507.00" y="309.17" width="5.00" height="63.43" fill="#579dae" stroke="#4a91a3" stroke-width="0.5"/>
<rect x="507.25" y="311.38" width="4.50" height="0.80" fill="#82b8c6"/>
<rect x="517.30" y="309.33" width="5.00" height="63.27" fill="#579dae" stroke="#4a91a3" stroke-width="0.5"/>
<rect x="517.55" y="311.44" width="4.50" height="0.80" fill="#82b8c6"/>
<rect x="527.60" y="309.48" width="5.00" height="63.12" fill="#579dae" stroke="#4a91a3" stroke-width="0.5"/>
<rect x="527.85" y="311.50" width="4.50" height="0.80" fill="#82b8c6"/>
<rect x="537.90" y="309.64" width="5.00" height="62.96" fill="#579dae" stroke="#4a91a3" stroke-width="0.5"/>
<rect x="538.15" y="311.56" width="4.50" height="0.80" fill="#82b8c6"/>
<rect x="548.20" y="309.80" width="5.00" height="62.80" fill="#579dae" stroke="#4a91a3" stroke-width="0.5"/>
<rect x="548.45" y="311.62" width="4.50" height="0.80" fill="#82b8c6"/>
<rect x="558.50" y="309.95" width="5.00" height="62.65" fill="#579dae" stroke="#4a91a3" stroke-width="0.5"/>
<rect x="558.75" y="311.68" width="4.50" height="0.80" fill="#82b8c6"/>
<rect x="568.80" y="310.11" width="5.00" height="62.49" fill="#579dae" stroke="#4a91a3" stroke-width="0.5"/>
<rect x="569.05" y="311.74" width="4.50" height="0.80" fill="#82b8c6"/>
<rect x="579.10" y="310.27" width="5.00" height="62.33" fill="#579dae" stroke="#4a91a3" stroke-width="0.5"/>
<rect x="579.35" y="311.80" width="4.50" height="0.80" fill="#82b8c6"/>
<rect x="589.40" y="310.42" width="5.00" height="62.18" fill="#579dae" stroke="#4a91a3" stroke-width="0.5"/>
<rect x="589.65" y="311.86" width="4.50" height="0.80" fill="#82b8c6"/>
<rect x="599.70" y="310.58" width="5.00" height="62.02" fill="#579dae" stroke="#4a91a3" stroke-width="0.5"/>
<rect x="599.95" y="311.92" width="4.50" height="0.80" fill="#82b8c6"/>
<rect x="610.00" y="310.73" width="5.00" height="61.87" fill="#579dae" stroke="#4a91a3" stroke-width="0.5"/>
<rect x="610.25" y="311.98" width="4.50" height="0.80" fill="#82b8c6"/>
<rect x="620.30" y="310.89" width="5.00" height="61.71" fill="#579dae" stroke="#4a91a3" stroke-width="0.5"/>
<rect x="620.55" y="312.05" width="4.50" height="0.80" fill="#82b8c6"/>
<rect x="630.60" y="311.05" width="5.00" height="61.55" fill="#579dae" stroke="#4a91a3" stroke-width="0.5"/>
<rect x="630.85" y="312.11" width="4.50" height="0.80" fill="#82b8c6"/>
<rect x="640.90" y="311.20" width="5.00" height="61.40" fill="#579dae" stroke="#4a91a3" stroke-width="0.5"/>
<rect x="641.15" y="312.17" width="4.50" height="0.80" fill="#82b8c6"/>
<rect x="651.20" y="311.36" width="5.00" height="61.24" fill="#579dae" stroke="#4a91a3" stroke-width="0.5"/>
<rect x="651.45" y="312.23" width="4.50" height="0.80" fill="#82b8c6"/>
<rect x="661.50" y="311.52" width="5.00" height="61.08" fill="#579dae" stroke="#4a91a3" stroke-width="0.5"/>
<rect x="661.75" y="312.29" width="4.50" height="0.80" fill="#82b8c6"/>
<rect x="671.80" y="311.67" width="5.00" height="60.93" fill="#579dae" stroke="#4a91a3" stroke-width="0.5"/>
<rect x="672.05" y="312.35" width="4.50" height="0.80" fill="#82b8c6"/>
<rect x="682.10" y="311.83" width="5.00" height="60.77" fill="#579dae" stroke="#4a91a3" stroke-width="0.5"/>
<rect x="692.40" y="311.99" width="5.00" height="60.61" fill="#579dae" stroke="#4a91a3" stroke-width="0.5"/>
<rect x="702.70" y="312.14" width="5.00" height="60.46" fill="#579dae" stroke="#4a91a3" stroke-width="0.5"/>
<rect x="713.00" y="312.30" width="5.00" height="60.30" fill="#579dae" stroke="#4a91a3" stroke-width="0.5"/>
<circle cx="613.70" cy="404.70" r="3.0" fill="#67a8b9"/>
<text x="620.20" y="406.80" font-size="6.2" font-weight="700" fill="#434c5d" textLength="22.40" lengthAdjust="spacingAndGlyphs">Interest</text>
<circle cx="656.80" cy="404.70" r="3.0" fill="#4e95a7"/>
<text x="663.50" y="406.80" font-size="6.2" font-weight="700" fill="#434c5d" textLength="20.20" lengthAdjust="spacingAndGlyphs">Capital</text>
<line x1="646.30" y1="419.00" x2="646.30" y2="453.00" stroke="#e6ebf1" stroke-width="0.8"/>
<text x="539.50" y="425.20" font-size="6.4" fill="#8a93a1" text-anchor="middle" textLength="44.60" lengthAdjust="spacingAndGlyphs">2018 - 21 Interest</text>
<text x="539.70" y="439.20" font-size="11.4" font-weight="700" fill="#485164" text-anchor="middle" textLength="51.20" lengthAdjust="spacingAndGlyphs">£6,250.00</text>
<text x="752.40" y="425.20" font-size="6.4" fill="#8a93a1" text-anchor="middle" textLength="42.00" lengthAdjust="spacingAndGlyphs">2018 - 21 Capital</text>
<text x="752.40" y="439.20" font-size="11.4" font-weight="700" fill="#485164" text-anchor="middle" textLength="63.80" lengthAdjust="spacingAndGlyphs">£200,000.00</text>
<circle cx="165.40" cy="462.40" r="3.85" fill="none" stroke="#5ea5bf" stroke-width="1.0"/>
<line x1="165.40" y1="460.00" x2="165.40" y2="462.80" stroke="#5ea5bf" stroke-width="0.75"/>
<circle cx="165.40" cy="463.50" r="0.8" fill="#5ea5bf"/>
<text x="171.50" y="465.40" font-size="7.8" fill="#8a94a3" textLength="103.10" lengthAdjust="spacingAndGlyphs">Asset value | Entire plan | 2018 - 21</text>
<line x1="44.60" y1="550.50" x2="414.70" y2="550.50" stroke="#e8edf3" stroke-width="0.8"/>
<line x1="44.60" y1="526.27" x2="414.70" y2="526.27" stroke="#e8edf3" stroke-width="0.8"/>
<line x1="44.60" y1="502.03" x2="414.70" y2="502.03" stroke="#e8edf3" stroke-width="0.8"/>
<line x1="44.60" y1="477.80" x2="414.70" y2="477.80" stroke="#e8edf3" stroke-width="0.8"/>
<line x1="44.60" y1="477.80" x2="44.60" y2="550.50" stroke="#e8edf3" stroke-width="0.8"/>
<line x1="116.56" y1="477.80" x2="116.56" y2="550.50" stroke="#e8edf3" stroke-width="0.8"/>
<line x1="188.52" y1="477.80" x2="188.52" y2="550.50" stroke="#e8edf3" stroke-width="0.8"/>
<line x1="260.48" y1="477.80" x2="260.48" y2="550.50" stroke="#e8edf3" stroke-width="0.8"/>
<line x1="332.44" y1="477.80" x2="332.44" y2="550.50" stroke="#e8edf3" stroke-width="0.8"/>
<line x1="404.40" y1="477.80" x2="404.40" y2="550.50" stroke="#e8edf3" stroke-width="0.8"/>
<text x="37.40" y="553.20" font-size="5.3" fill="#8590a2" text-anchor="end">£0k</text>
<text x="37.40" y="528.97" font-size="5.3" fill="#8590a2" text-anchor="end">£500k</text>
<text x="37.40" y="504.73" font-size="5.3" fill="#8590a2" text-anchor="end">£1000k</text>
<text x="37.40" y="480.50" font-size="5.3" fill="#8590a2" text-anchor="end">£1500k</text>
<text x="111.96" y="560.80" font-size="5.4" fill="#8590a2" text-anchor="middle">May</text>
<text x="111.96" y="568.20" font-size="5.4" fill="#8590a2" text-anchor="middle">19</text>
<text x="183.92" y="560.80" font-size="5.4" fill="#8590a2" text-anchor="middle">Dec</text>
<text x="183.92" y="568.20" font-size="5.4" fill="#8590a2" text-anchor="middle">19</text>
<text x="255.88" y="560.80" font-size="5.4" fill="#8590a2" text-anchor="middle">Jul</text>
<text x="255.88" y="568.20" font-size="5.4" fill="#8590a2" text-anchor="middle">20</text>
<text x="327.84" y="560.80" font-size="5.4" fill="#8590a2" text-anchor="middle">Feb</text>
<text x="327.84" y="568.20" font-size="5.4" fill="#8590a2" text-anchor="middle">21</text>
<text x="399.80" y="560.80" font-size="5.4" fill="#8590a2" text-anchor="middle">Sep</text>
<text x="399.80" y="568.20" font-size="5.4" fill="#8590a2" text-anchor="middle">21</text>
<rect x="47.80" y="544.40" width="5.20" height="6.10" fill="#d6bb93"/>
<rect x="47.80" y="547.60" width="5.20" height="1.00" fill="#b98a55"/>
<rect x="47.80" y="548.60" width="5.20" height="1.90" fill="#6d3208"/>
<rect x="58.07" y="545.90" width="5.20" height="4.60" fill="#d6bb93"/>
<rect x="58.07" y="547.60" width="5.20" height="1.00" fill="#b98a55"/>
<rect x="58.07" y="548.60" width="5.20" height="1.90" fill="#6d3208"/>
<rect x="68.34" y="548.20" width="5.20" height="2.30" fill="#d6bb93"/>
<rect x="68.34" y="547.60" width="5.20" height="1.00" fill="#b98a55"/>
<rect x="68.34" y="548.60" width="5.20" height="1.90" fill="#6d3208"/>
<rect x="78.61" y="548.20" width="5.20" height="2.30" fill="#d6bb93"/>
<rect x="78.61" y="547.60" width="5.20" height="1.00" fill="#b98a55"/>
<rect x="78.61" y="548.60" width="5.20" height="1.90" fill="#6d3208"/>
<rect x="88.88" y="547.20" width="5.20" height="3.30" fill="#d6bb93"/>
<rect x="88.88" y="547.60" width="5.20" height="1.00" fill="#b98a55"/>
<rect x="88.88" y="548.60" width="5.20" height="1.90" fill="#6d3208"/>
<rect x="99.15" y="546.10" width="5.20" height="4.40" fill="#d6bb93"/>
<rect x="99.15" y="547.60" width="5.20" height="1.00" fill="#b98a55"/>
<rect x="99.15" y="548.60" width="5.20" height="1.90" fill="#6d3208"/>
<rect x="109.42" y="545.90" width="5.20" height="4.60" fill="#d6bb93"/>
<rect x="109.42" y="547.60" width="5.20" height="1.00" fill="#b98a55"/>
<rect x="109.42" y="548.60" width="5.20" height="1.90" fill="#6d3208"/>
<rect x="119.69" y="545.00" width="5.20" height="5.50" fill="#d6bb93"/>
<rect x="119.69" y="547.60" width="5.20" height="1.00" fill="#b98a55"/>
<rect x="119.69" y="548.60" width="5.20" height="1.90" fill="#6d3208"/>
<rect x="129.96" y="543.80" width="5.20" height="6.70" fill="#d6bb93"/>
<rect x="129.96" y="547.60" width="5.20" height="1.00" fill="#b98a55"/>
<rect x="129.96" y="548.60" width="5.20" height="1.90" fill="#6d3208"/>
<rect x="140.23" y="543.40" width="5.20" height="7.10" fill="#d6bb93"/>
<rect x="140.23" y="547.60" width="5.20" height="1.00" fill="#b98a55"/>
<rect x="140.23" y="548.60" width="5.20" height="1.90" fill="#6d3208"/>
<rect x="150.50" y="541.80" width="5.20" height="8.70" fill="#d6bb93"/>
<rect x="150.50" y="547.60" width="5.20" height="1.00" fill="#b98a55"/>
<rect x="150.50" y="548.60" width="5.20" height="1.90" fill="#6d3208"/>
<rect x="160.77" y="545.00" width="5.20" height="5.50" fill="#d6bb93"/>
<rect x="160.77" y="547.60" width="5.20" height="1.00" fill="#b98a55"/>
<rect x="160.77" y="548.60" width="5.20" height="1.90" fill="#6d3208"/>
<rect x="171.04" y="544.00" width="5.20" height="6.50" fill="#d6bb93"/>
<rect x="171.04" y="547.60" width="5.20" height="1.00" fill="#b98a55"/>
<rect x="171.04" y="548.60" width="5.20" height="1.90" fill="#6d3208"/>
<rect x="181.31" y="542.40" width="5.20" height="8.10" fill="#d6bb93"/>
<rect x="181.31" y="547.60" width="5.20" height="1.00" fill="#b98a55"/>
<rect x="181.31" y="548.60" width="5.20" height="1.90" fill="#6d3208"/>
<rect x="191.58" y="541.90" width="5.20" height="8.60" fill="#d6bb93"/>
<rect x="191.58" y="547.60" width="5.20" height="1.00" fill="#b98a55"/>
<rect x="191.58" y="548.60" width="5.20" height="1.90" fill="#6d3208"/>
<rect x="201.85" y="540.20" width="5.20" height="10.30" fill="#d6bb93"/>
<rect x="201.85" y="547.60" width="5.20" height="1.00" fill="#b98a55"/>
<rect x="201.85" y="548.60" width="5.20" height="1.90" fill="#6d3208"/>
<rect x="212.12" y="538.70" width="5.20" height="11.80" fill="#d6bb93"/>
<rect x="212.12" y="547.60" width="5.20" height="1.00" fill="#b98a55"/>
<rect x="212.12" y="548.60" width="5.20" height="1.90" fill="#6d3208"/>
<rect x="222.39" y="537.10" width="5.20" height="13.40" fill="#d6bb93"/>
<rect x="222.39" y="547.60" width="5.20" height="1.00" fill="#b98a55"/>
<rect x="222.39" y="548.60" width="5.20" height="1.90" fill="#6d3208"/>
<rect x="232.66" y="536.00" width="5.20" height="14.50" fill="#d6bb93"/>
<rect x="232.66" y="547.60" width="5.20" height="1.00" fill="#b98a55"/>
<rect x="232.66" y="548.60" width="5.20" height="1.90" fill="#6d3208"/>
<rect x="242.93" y="534.50" width="5.20" height="16.00" fill="#d6bb93"/>
<rect x="242.93" y="547.60" width="5.20" height="1.00" fill="#b98a55"/>
<rect x="242.93" y="548.60" width="5.20" height="1.90" fill="#6d3208"/>
<rect x="253.20" y="532.50" width="5.20" height="18.00" fill="#d6bb93"/>
<rect x="253.20" y="547.60" width="5.20" height="1.00" fill="#b98a55"/>
<rect x="253.20" y="548.60" width="5.20" height="1.90" fill="#6d3208"/>
<rect x="263.47" y="531.00" width="5.20" height="19.50" fill="#d6bb93"/>
<rect x="263.47" y="547.60" width="5.20" height="1.00" fill="#b98a55"/>
<rect x="263.47" y="548.60" width="5.20" height="1.90" fill="#6d3208"/>
<rect x="273.74" y="529.10" width="5.20" height="21.40" fill="#d6bb93"/>
<rect x="273.74" y="547.60" width="5.20" height="1.00" fill="#b98a55"/>
<rect x="273.74" y="548.60" width="5.20" height="1.90" fill="#6d3208"/>
<rect x="284.01" y="531.40" width="5.20" height="19.10" fill="#d6bb93"/>
<rect x="284.01" y="547.60" width="5.20" height="1.00" fill="#b98a55"/>
<rect x="284.01" y="548.60" width="5.20" height="1.90" fill="#6d3208"/>
<rect x="294.28" y="529.30" width="5.20" height="21.20" fill="#d6bb93"/>
<rect x="294.28" y="547.60" width="5.20" height="1.00" fill="#b98a55"/>
<rect x="294.28" y="548.60" width="5.20" height="1.90" fill="#6d3208"/>
<rect x="304.55" y="526.80" width="5.20" height="23.70" fill="#d6bb93"/>
<rect x="304.55" y="547.60" width="5.20" height="1.00" fill="#b98a55"/>
<rect x="304.55" y="548.60" width="5.20" height="1.90" fill="#6d3208"/>
<rect x="314.82" y="524.70" width="5.20" height="25.80" fill="#d6bb93"/>
<rect x="314.82" y="547.60" width="5.20" height="1.00" fill="#b98a55"/>
<rect x="314.82" y="548.60" width="5.20" height="1.90" fill="#6d3208"/>
<rect x="325.09" y="522.80" width="5.20" height="27.70" fill="#d6bb93"/>
<rect x="325.09" y="547.60" width="5.20" height="1.00" fill="#b98a55"/>
<rect x="325.09" y="548.60" width="5.20" height="1.90" fill="#6d3208"/>
<rect x="335.36" y="519.50" width="5.20" height="31.00" fill="#d6bb93"/>
<rect x="335.36" y="547.60" width="5.20" height="1.00" fill="#b98a55"/>
<rect x="335.36" y="548.60" width="5.20" height="1.90" fill="#6d3208"/>
<rect x="345.63" y="517.00" width="5.20" height="33.50" fill="#d6bb93"/>
<rect x="345.63" y="547.60" width="5.20" height="1.00" fill="#b98a55"/>
<rect x="345.63" y="548.60" width="5.20" height="1.90" fill="#6d3208"/>
<rect x="355.90" y="514.40" width="5.20" height="36.10" fill="#d6bb93"/>
<rect x="355.90" y="547.60" width="5.20" height="1.00" fill="#b98a55"/>
<rect x="355.90" y="548.60" width="5.20" height="1.90" fill="#6d3208"/>
<rect x="366.17" y="511.80" width="5.20" height="38.70" fill="#d6bb93"/>
<rect x="366.17" y="547.60" width="5.20" height="1.00" fill="#b98a55"/>
<rect x="366.17" y="548.60" width="5.20" height="1.90" fill="#6d3208"/>
<rect x="376.44" y="508.90" width="5.20" height="41.60" fill="#d6bb93"/>
<rect x="376.44" y="547.60" width="5.20" height="1.00" fill="#b98a55"/>
<rect x="376.44" y="548.60" width="5.20" height="1.90" fill="#6d3208"/>
<rect x="386.71" y="506.10" width="5.20" height="44.40" fill="#d6bb93"/>
<rect x="386.71" y="547.60" width="5.20" height="1.00" fill="#b98a55"/>
<rect x="386.71" y="548.60" width="5.20" height="1.90" fill="#6d3208"/>
<rect x="396.98" y="503.00" width="5.20" height="47.50" fill="#d6bb93"/>
<rect x="396.98" y="547.60" width="5.20" height="1.00" fill="#b98a55"/>
<rect x="396.98" y="548.60" width="5.20" height="1.90" fill="#6d3208"/>
<rect x="407.25" y="505.10" width="5.20" height="45.40" fill="#d6bb93"/>
<rect x="407.25" y="547.60" width="5.20" height="1.00" fill="#b98a55"/>
<rect x="407.25" y="548.60" width="5.20" height="1.90" fill="#6d3208"/>
<circle cx="101.00" cy="582.80" r="3.0" fill="#ddc6a2"/>
<text x="107.90" y="584.90" font-size="6.2" font-weight="700" fill="#434c5d" textLength="13.40" lengthAdjust="spacingAndGlyphs">Cash</text>
<circle cx="135.60" cy="582.80" r="3.0" fill="#d1ad7c"/>
<text x="142.50" y="584.90" font-size="6.2" font-weight="700" fill="#434c5d" textLength="26.80" lengthAdjust="spacingAndGlyphs">Inventory</text>
<circle cx="183.60" cy="582.80" r="3.0" fill="#bf8e50"/>
<text x="190.50" y="584.90" font-size="6.2" font-weight="700" fill="#434c5d" textLength="54.20" lengthAdjust="spacingAndGlyphs">Accounts receivable</text>
<circle cx="259.00" cy="582.80" r="3.0" fill="#a96b2c"/>
<text x="265.90" y="584.90" font-size="6.2" font-weight="700" fill="#434c5d" textLength="34.30" lengthAdjust="spacingAndGlyphs">Investments</text>
<circle cx="314.50" cy="582.80" r="3.0" fill="#7a3a0d"/>
<text x="321.40" y="584.90" font-size="6.2" font-weight="700" fill="#434c5d" textLength="17.60" lengthAdjust="spacingAndGlyphs">Assets</text>
<text x="218.20" y="602.80" font-size="6.4" fill="#8a93a1" text-anchor="middle" textLength="54.30" lengthAdjust="spacingAndGlyphs">2018 - 21 total assets</text>
<text x="218.20" y="616.60" font-size="11.4" font-weight="700" fill="#485164" text-anchor="middle" textLength="64.40" lengthAdjust="spacingAndGlyphs">£947,001.56</text>
<circle cx="591.40" cy="462.40" r="3.85" fill="none" stroke="#5ea5bf" stroke-width="1.0"/>
<line x1="591.40" y1="460.00" x2="591.40" y2="462.80" stroke="#5ea5bf" stroke-width="0.75"/>
<circle cx="591.40" cy="463.50" r="0.8" fill="#5ea5bf"/>
<text x="597.30" y="465.40" font-size="7.8" fill="#8a94a3" textLength="108.30" lengthAdjust="spacingAndGlyphs">Breakeven | Entire plan | 2018 - 2021</text>
<line x1="473.70" y1="477.50" x2="843.70" y2="477.50" stroke="#e8edf3" stroke-width="0.8"/>
<line x1="473.70" y1="508.87" x2="843.70" y2="508.87" stroke="#e8edf3" stroke-width="0.8"/>
<line x1="473.70" y1="540.23" x2="843.70" y2="540.23" stroke="#e8edf3" stroke-width="0.8"/>
<line x1="473.70" y1="477.50" x2="473.70" y2="571.60" stroke="#e8edf3" stroke-width="0.8"/>
<text x="466.20" y="480.20" font-size="5.3" fill="#8590a2" text-anchor="end">£6000k</text>
<text x="466.20" y="511.57" font-size="5.3" fill="#8590a2" text-anchor="end">£4000k</text>
<text x="466.20" y="542.93" font-size="5.3" fill="#8590a2" text-anchor="end">£2000k</text>
<text x="466.20" y="574.30" font-size="5.3" fill="#8590a2" text-anchor="end">£0k</text>
<polygon points="473.70,571.60 505.00,564.00 540.00,559.20 577.00,554.30 583.30,553.00 596.40,549.70 660.00,539.40 707.30,533.20 718.80,529.30 760.00,523.60 800.00,518.00 828.90,514.00 840.40,510.00 840.4,571.6 473.7,571.6" fill="#f4e2e2"/>
<polyline points="473.70,571.80 505.00,565.20 540.00,559.60 577.00,554.20 650.00,540.60 840.40,497.90" fill="none" stroke="#72b466" stroke-width="1.25"/>
<polyline points="473.70,571.60 505.00,564.00 540.00,559.20 577.00,554.30 583.30,553.00 596.40,549.70 660.00,539.40 707.30,533.20 718.80,529.30 760.00,523.60 800.00,518.00 828.90,514.00 840.40,510.00" fill="none" stroke="#8c2a2b" stroke-width="1.1"/>
<line x1="473.70" y1="571.60" x2="843.70" y2="571.60" stroke="#e3e8ef" stroke-width="0.8"/>
<line x1="493.40" y1="571.60" x2="493.40" y2="576.20" stroke="#d5dde7" stroke-width="0.8"/>
<text x="493.90" y="587.40" font-size="5.2" fill="#8590a2">Jan 2019</text>
<line x1="523.95" y1="571.60" x2="523.95" y2="576.20" stroke="#d5dde7" stroke-width="0.8"/>
<text x="524.45" y="587.40" font-size="5.2" fill="#8590a2">Apr 2019</text>
<line x1="554.50" y1="571.60" x2="554.50" y2="576.20" stroke="#d5dde7" stroke-width="0.8"/>
<text x="555.00" y="587.40" font-size="5.2" fill="#8590a2">Jul 2019</text>
<line x1="585.05" y1="571.60" x2="585.05" y2="576.20" stroke="#d5dde7" stroke-width="0.8"/>
<text x="585.55" y="587.40" font-size="5.2" fill="#8590a2">Oct 2019</text>
<line x1="615.60" y1="571.60" x2="615.60" y2="576.20" stroke="#d5dde7" stroke-width="0.8"/>
<text x="616.10" y="587.40" font-size="5.2" fill="#8590a2">Jan 2020</text>
<line x1="646.15" y1="571.60" x2="646.15" y2="576.20" stroke="#d5dde7" stroke-width="0.8"/>
<text x="646.65" y="587.40" font-size="5.2" fill="#8590a2">Apr 2020</text>
<line x1="676.70" y1="571.60" x2="676.70" y2="576.20" stroke="#d5dde7" stroke-width="0.8"/>
<text x="677.20" y="587.40" font-size="5.2" fill="#8590a2">Jul 2020</text>
<line x1="707.25" y1="571.60" x2="707.25" y2="576.20" stroke="#d5dde7" stroke-width="0.8"/>
<text x="707.75" y="587.40" font-size="5.2" fill="#8590a2">Oct 2020</text>
<line x1="737.80" y1="571.60" x2="737.80" y2="576.20" stroke="#d5dde7" stroke-width="0.8"/>
<text x="738.30" y="587.40" font-size="5.2" fill="#8590a2">Jan 2021</text>
<line x1="768.35" y1="571.60" x2="768.35" y2="576.20" stroke="#d5dde7" stroke-width="0.8"/>
<text x="768.85" y="587.40" font-size="5.2" fill="#8590a2">Apr 2021</text>
<line x1="798.90" y1="571.60" x2="798.90" y2="576.20" stroke="#d5dde7" stroke-width="0.8"/>
<text x="799.40" y="587.40" font-size="5.2" fill="#8590a2">Jul 2021</text>
<line x1="829.45" y1="571.60" x2="829.45" y2="576.20" stroke="#d5dde7" stroke-width="0.8"/>
<text x="829.95" y="587.40" font-size="5.2" fill="#8590a2">Oct...</text>
<line x1="473.70" y1="554.10" x2="577.00" y2="554.10" stroke="#56617a" stroke-width="1.1"/>
<line x1="577.00" y1="554.10" x2="577.00" y2="571.60" stroke="#56617a" stroke-width="1.1"/>
<circle cx="577.0" cy="554.1" r="2.0" fill="#ffffff" stroke="#56617a" stroke-width="0.9"/>
<line x1="647.00" y1="597.00" x2="647.00" y2="640.00" stroke="#e6ebf1" stroke-width="0.8"/>
<text x="539.80" y="603.00" font-size="6.4" fill="#8a93a1" text-anchor="middle" textLength="65.60" lengthAdjust="spacingAndGlyphs">Make back your money in</text>
<text x="539.80" y="617.00" font-size="11.4" font-weight="700" fill="#485164" text-anchor="middle" textLength="87.60" lengthAdjust="spacingAndGlyphs">September 2019</text>
<text x="753.00" y="603.00" font-size="6.4" fill="#8a93a1" text-anchor="middle" textLength="70.00" lengthAdjust="spacingAndGlyphs">To breakeven you will need</text>
<text x="753.00" y="617.00" font-size="11.4" font-weight="700" fill="#485164" text-anchor="middle" textLength="74.20" lengthAdjust="spacingAndGlyphs">£1,128,557.92</text>
<rect x="862.40" y="20.00" width="9.60" height="612.00" fill="#fbfbfc"/>
<rect x="864.10" y="26.90" width="6.90" height="547.60" fill="#a3acb9" rx="3.4"/>
<path d="M865.9 25.2 L867.8 23.4 L869.7 25.2" fill="none" stroke="#8b93a0" stroke-width="0.9"/>
<path d="M865.4 623.6 L867.6 625.6 L869.8 623.6" fill="none" stroke="#8b93a0" stroke-width="0.7"/>
<defs><filter id="sh" x="-30%" y="-30%" width="160%" height="160%"><feDropShadow dx="0" dy="1.6" stdDeviation="1.1" flood-color="#6b7b8f" flood-opacity="0.5"/></filter></defs>
<path d="M862.4 591.9 V603.8 A15.5 15.5 0 1 1 846.9 588.3 H858.8 A3.6 3.6 0 0 1 862.4 591.9 Z" fill="#ef826c" stroke="#e8705a" stroke-width="0.6" filter="url(#sh)"/>
<rect x="841.40" y="599.30" width="12.60" height="9.10" fill="#ffffff" rx="2.8"/>
<rect x="843.70" y="601.50" width="7.70" height="1.10" fill="#ef806a"/>
<rect x="843.70" y="604.40" width="5.10" height="1.10" fill="#ef806a"/>
<rect x="0.00" y="630.00" width="872.00" height="1.00" fill="#9b9b9b"/>
</svg>
</div>
</body></html>
